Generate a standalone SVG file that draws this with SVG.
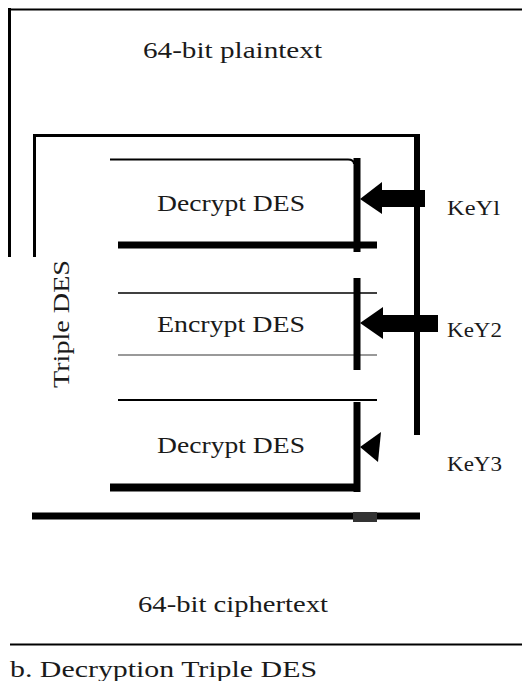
<svg xmlns="http://www.w3.org/2000/svg" width="522" height="681" viewBox="0 0 522 681">
<style>
text{font-family:"Liberation Serif","Times New Roman",serif;fill:#1a1a1a;}
.ln{stroke:#000;fill:none;}
.gr{stroke:#999;fill:none;}
.ah{fill:#000;stroke:none;}
</style>
<rect x="0" y="0" width="522" height="681" fill="#fff"/>
<g id="border">
<line class="ln" x1="8" y1="9.5" x2="522" y2="9.5" stroke-width="2" stroke="#333"/>
<line class="ln" x1="9.5" y1="8" x2="9.5" y2="257" stroke-width="3"/>
<text x="143" y="58" font-size="24" textLength="179" lengthAdjust="spacingAndGlyphs">64-bit plaintext</text>
</g>
<g id="triple-des">
<polyline class="ln" points="34.5,257 34.5,135.5 417,135.5" stroke-width="3"/>
<line class="ln" x1="417" y1="134" x2="417" y2="435" stroke-width="6"/>
<line class="ln" x1="32" y1="516" x2="420" y2="516" stroke-width="7"/>
<rect x="353" y="512" width="24" height="10" fill="#333"/>
<text transform="translate(69,388) rotate(-90)" x="0" y="0" font-size="23" textLength="128" lengthAdjust="spacingAndGlyphs">Triple DES</text>
</g>
<g id="decrypt1">
<path class="ln" d="M110,159.5 H348 Q354,159.5 354,164" stroke-width="2"/>
<line class="ln" x1="357" y1="158" x2="357" y2="252" stroke-width="7"/>
<line class="ln" x1="118" y1="245" x2="377" y2="245" stroke-width="7"/>
<text x="157" y="211" font-size="23" textLength="148" lengthAdjust="spacingAndGlyphs">Decrypt DES</text>
</g>
<g id="encrypt2">
<line class="ln" x1="118" y1="293" x2="377" y2="293" stroke-width="1.5" stroke="#555"/>
<line class="gr" x1="118" y1="355" x2="377" y2="355" stroke-width="2"/>
<line class="ln" x1="357" y1="278" x2="357" y2="370" stroke-width="7"/>
<text x="157" y="332" font-size="23" textLength="148" lengthAdjust="spacingAndGlyphs">Encrypt DES</text>
</g>
<g id="decrypt3">
<line class="ln" x1="118" y1="400" x2="377" y2="400" stroke-width="2"/>
<line class="ln" x1="357" y1="402" x2="357" y2="492" stroke-width="7"/>
<line class="ln" x1="110" y1="487.5" x2="357" y2="487.5" stroke-width="8"/>
<text x="157" y="453" font-size="23" textLength="148" lengthAdjust="spacingAndGlyphs">Decrypt DES</text>
</g>
<g id="keys">
<text x="447" y="215" font-size="21" textLength="53" lengthAdjust="spacingAndGlyphs">KeYl</text>
<text x="447" y="337" font-size="21" textLength="55" lengthAdjust="spacingAndGlyphs">KeY2</text>
<text x="447" y="471" font-size="21" textLength="55" lengthAdjust="spacingAndGlyphs">KeY3</text>
</g>
<g id="connectors">
<rect class="ah" x="378" y="190" width="47" height="17"/>
<polygon class="ah" points="360,199 382,182 382,214"/>
<rect class="ah" x="378" y="315" width="60" height="17"/>
<polygon class="ah" points="360,323 383,307 383,339"/>
<polygon class="ah" points="360,447 381,432 378,462"/>
</g>
<g id="caption">
<text x="138" y="612" font-size="24" textLength="190" lengthAdjust="spacingAndGlyphs">64-bit ciphertext</text>
<line class="ln" x1="10" y1="644.5" x2="522" y2="644.5" stroke-width="2"/>
<text x="10" y="677" font-size="23" textLength="307" lengthAdjust="spacingAndGlyphs">b. Decryption Triple DES</text>
</g>
</svg>
